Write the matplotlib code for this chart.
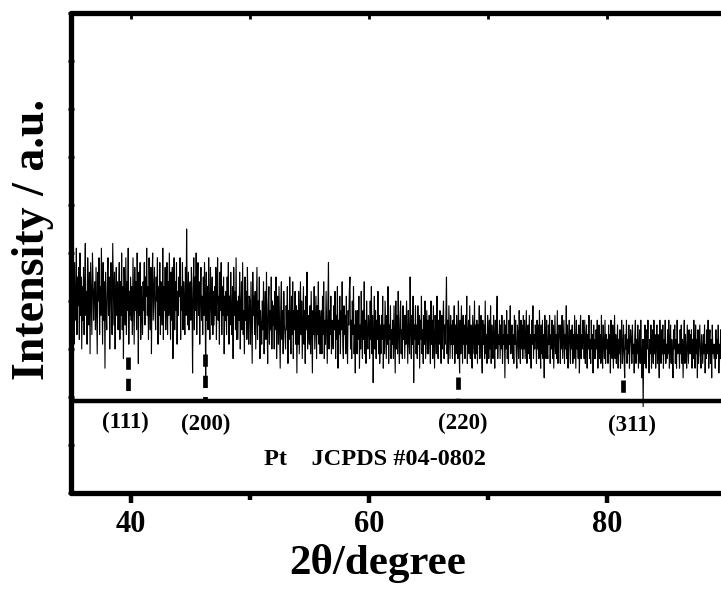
import numpy as np
import matplotlib
matplotlib.use("Agg")
import matplotlib.pyplot as plt

# ---------------- data ----------------
scan_start = 35.0
scan_end = 90.0
intensity = [
    46, 35, 49, 38, 43, 31, 48, 40, 36, 51, 33, 45, 39, 47, 32, 50, 37, 45, 30, 43,
    36, 47, 33, 44, 52, 37, 42, 31, 49, 43, 35, 46, 29, 48, 40, 33, 50, 44, 36, 42,
    44, 34, 47, 38, 29, 46, 40, 49, 33, 43, 37, 51, 41, 31, 48, 36, 44, 26, 46, 38,
    34, 43, 49, 37, 45, 30, 41, 48, 38, 33, 52, 43, 35, 46, 30, 42, 47, 37, 44, 34,
    42, 48, 32, 44, 37, 50, 34, 43, 28, 47, 40, 35, 49, 33, 44, 38, 51, 31, 42, 37,
    45, 36, 43, 33, 49, 40, 31, 47, 38, 44, 34, 50, 41, 27, 46, 37, 48, 32, 43, 39,
    33, 44, 38, 48, 35, 45, 41, 51, 37, 43, 32, 49, 40, 34, 47, 29, 44, 50, 36, 42,
    47, 38, 34, 45, 40, 49, 31, 43, 37, 48, 33, 44, 41, 35, 51, 32, 43, 38, 47, 34,
    40, 48, 33, 44, 37, 50, 41, 32, 46, 36, 47, 28, 43, 49, 34, 44, 38, 48, 31, 42,
    37, 45, 41, 49, 32, 43, 38, 48, 34, 44, 40, 33, 47, 37, 55, 41, 35, 46, 34, 43,
    44, 36, 47, 40, 25, 43, 49, 34, 45, 38, 50, 33, 42, 48, 37, 44, 31, 41, 47, 36,
    41, 33, 45, 37, 48, 41, 23, 46, 36, 43, 34, 49, 39, 32, 47, 40, 35, 45, 33, 42,
    35, 43, 37, 47, 32, 42, 49, 36, 41, 31, 46, 38, 48, 33, 43, 37, 45, 29, 41, 36,
    42, 33, 45, 37, 48, 31, 41, 35, 46, 38, 33, 43, 28, 47, 37, 42, 34, 49, 32, 40,
    32, 41, 36, 46, 30, 39, 44, 34, 48, 33, 38, 29, 45, 36, 42, 32, 47, 37, 31, 41,
    40, 31, 44, 35, 27, 46, 37, 41, 33, 42, 30, 38, 47, 32, 40, 35, 45, 28, 38, 34,
    31, 40, 34, 44, 29, 37, 42, 32, 46, 35, 27, 39, 43, 31, 38, 34, 45, 30, 40, 35,
    39, 30, 42, 34, 45, 28, 36, 41, 31, 43, 34, 26, 39, 44, 32, 38, 29, 42, 35, 33,
    30, 39, 34, 43, 27, 38, 32, 45, 36, 29, 41, 33, 44, 28, 38, 34, 42, 31, 39, 25,
    38, 31, 42, 29, 36, 44, 33, 40, 28, 35, 43, 31, 38, 27, 41, 34, 46, 30, 37, 33,
    31, 39, 29, 42, 34, 25, 38, 33, 43, 30, 36, 41, 28, 39, 33, 44, 31, 38, 29, 36,
    38, 29, 41, 33, 44, 28, 36, 31, 42, 34, 27, 39, 48, 30, 38, 33, 41, 29, 36, 32,
    30, 39, 34, 42, 28, 37, 32, 43, 26, 36, 33, 41, 29, 38, 34, 44, 31, 28, 39, 33,
    37, 29, 41, 32, 27, 38, 35, 42, 45, 30, 36, 28, 40, 33, 43, 29, 35, 25, 38, 32,
    29, 38, 32, 41, 26, 35, 30, 42, 33, 28, 38, 32, 44, 29, 36, 27, 40, 33, 30, 37,
    35, 28, 40, 32, 43, 29, 37, 23, 34, 41, 30, 38, 28, 36, 32, 42, 29, 37, 27, 35,
    29, 37, 32, 41, 26, 35, 29, 40, 34, 28, 37, 31, 43, 27, 35, 32, 39, 28, 34, 31,
    36, 28, 39, 32, 25, 40, 30, 37, 29, 42, 33, 27, 36, 40, 29, 34, 28, 39, 32, 37,
    28, 37, 31, 40, 34, 27, 38, 32, 29, 45, 34, 28, 37, 31, 41, 23, 35, 32, 39, 29,
    35, 28, 39, 31, 37, 26, 36, 32, 41, 29, 34, 27, 37, 31, 40, 28, 33, 38, 29, 36,
    29, 37, 33, 27, 40, 31, 36, 28, 39, 33, 26, 37, 34, 29, 41, 32, 28, 36, 31, 38,
    33, 27, 37, 30, 36, 40, 28, 35, 31, 37, 45, 29, 36, 27, 39, 33, 28, 37, 31, 35,
    28, 36, 31, 39, 27, 35, 29, 37, 33, 28, 40, 31, 25, 36, 29, 39, 33, 27, 37, 31,
    35, 28, 37, 31, 41, 27, 33, 36, 29, 39, 28, 35, 31, 26, 37, 33, 29, 40, 28, 35,
    29, 36, 27, 35, 31, 39, 28, 33, 37, 29, 25, 36, 31, 35, 28, 40, 29, 33, 27, 37,
    34, 28, 36, 30, 39, 27, 35, 31, 28, 37, 33, 26, 36, 30, 35, 41, 28, 33, 31, 36,
    28, 35, 30, 37, 27, 33, 31, 36, 24, 35, 30, 38, 28, 33, 27, 36, 31, 39, 29, 33,
    35, 28, 33, 27, 37, 31, 36, 29, 26, 35, 33, 28, 38, 31, 27, 36, 30, 35, 28, 37,
    30, 36, 28, 33, 38, 27, 32, 35, 29, 37, 28, 33, 26, 36, 31, 39, 28, 33, 30, 35,
    33, 27, 36, 30, 35, 28, 38, 31, 26, 35, 29, 36, 28, 33, 24, 37, 31, 28, 36, 30,
    28, 35, 31, 37, 27, 33, 30, 36, 28, 35, 26, 32, 37, 29, 33, 28, 38, 27, 32, 35,
    33, 27, 35, 30, 37, 28, 32, 36, 27, 33, 30, 39, 28, 35, 26, 32, 36, 30, 27, 34,
    30, 35, 27, 33, 28, 37, 31, 26, 36, 30, 33, 28, 35, 25, 32, 37, 28, 33, 30, 36,
    33, 28, 36, 27, 32, 35, 26, 33, 30, 37, 28, 32, 27, 36, 30, 33, 25, 35, 28, 32,
    28, 34, 30, 36, 26, 32, 35, 28, 33, 27, 37, 30, 26, 35, 31, 28, 36, 27, 33, 30,
    32, 27, 35, 29, 33, 25, 36, 30, 28, 35, 26, 32, 37, 28, 33, 27, 30, 35, 26, 32,
    29, 34, 26, 32, 36, 27, 30, 35, 28, 24, 33, 30, 36, 27, 32, 29, 35, 26, 31, 34,
    32, 27, 35, 29, 31, 25, 33, 36, 27, 32, 29, 35, 26, 30, 34, 27, 36, 29, 24, 32,
    18, 32, 27, 35, 29, 26, 34, 30, 36, 28, 25, 32, 29, 35, 26, 31, 34, 27, 36, 29,
    33, 26, 31, 35, 27, 33, 29, 24, 36, 30, 27, 34, 29, 35, 26, 32, 29, 36, 27, 31,
    28, 34, 29, 36, 26, 31, 35, 27, 32, 29, 24, 34, 30, 35, 27, 32, 26, 36, 29, 31,
    31, 26, 34, 29, 35, 27, 32, 24, 31, 36, 27, 33, 29, 26, 35, 31, 27, 34, 29, 33,
    29, 34, 26, 32, 28, 36, 30, 26, 35, 29, 32, 24, 34, 27, 31, 35, 29, 26, 33, 30,
    27, 33, 29, 35, 25, 31, 28, 34, 29, 36, 26, 31, 34, 27, 32, 24, 35, 29, 31, 28,
    31, 26, 34, 28, 32, 29, 35, 25, 31, 28, 34, 29, 26, 36, 28, 31, 33, 26, 29, 40,
    30,
]

ref_positions = [39.8, 46.2, 67.5, 81.3]
ref_tops = [28.3, 29.0, 24.2, 23.5]
ref_labels = ["(111)", "(200)", "(220)", "(311)"]
ref_label_x = [39.6, 46.3, 67.9, 82.1]
ref_label_y = [14.8, 14.2, 14.4, 14.0]
ref_title = "Pt    JCPDS #04-0802"

divider_level = 19.2
x_ticks = [40, 60, 80]
x_minor_ticks = [50, 70]

# ---------------- figure ----------------
plt.rcParams['font.family'] = ['Liberation Serif', 'DejaVu Serif']
plt.rcParams['font.weight'] = 'bold'

fig = plt.figure(figsize=(7.21, 5.89), dpi=100)
ax = fig.add_axes([71 / 721, 96 / 589, 655.6 / 721, 480 / 589])

two_theta = np.linspace(scan_start, scan_end, len(intensity))

# reference sticks (drawn from top down to the divider)
for xp, top in zip(ref_positions, ref_tops):
    ax.plot([xp, xp], [top, divider_level], color='black', lw=3.4,
            linestyle=(0, (2.6, 1.9)), dash_capstyle='butt', zorder=1)

ax.plot(two_theta, intensity, color='black', lw=0.8, zorder=2)

ax.axhline(divider_level, color='black', lw=3.2, zorder=3)

for xl, yl, lab in zip(ref_label_x, ref_label_y, ref_labels):
    ax.text(xl, yl, lab, ha='center', va='center', fontsize=16.5,
            fontweight='bold')
ax.text(60.5, 6.9, ref_title, ha='center', va='center', fontsize=17.5,
        fontweight='bold')

ax.set_xlim(scan_start, scan_end)
ax.set_ylim(0, 100)

ax.set_xticks(x_ticks)
ax.set_xticks(x_minor_ticks, minor=True)
ax.set_xticklabels([str(t) for t in x_ticks], fontsize=22, fontweight='bold')
ax.tick_params(axis='x', which='major', direction='out', length=7, width=3.2,
               pad=5)
ax.tick_params(axis='x', which='minor', direction='out', length=5, width=3.2)

ax.set_yticks(np.arange(0, 101, 10))
ax.set_yticklabels([])
ax.tick_params(axis='y', which='major', direction='inout', length=4, width=2)

sec = ax.secondary_xaxis('top')
sec.set_xticks(x_ticks + x_minor_ticks)
sec.set_xticklabels([])
sec.tick_params(direction='in', length=4, width=2)
sec.spines['top'].set_visible(False)

for sp in ax.spines.values():
    sp.set_linewidth(3.8)
    sp.set_capstyle('round')

ax.set_xlabel("2θ/degree", fontsize=31, fontweight='bold')
ax.xaxis.set_label_coords(0.468, -0.106)
ax.set_ylabel("Intensity / a.u.", fontsize=33, fontweight='bold')
ax.yaxis.set_label_coords(-0.026, 0.529)

fig.savefig("out.png", dpi=100)
